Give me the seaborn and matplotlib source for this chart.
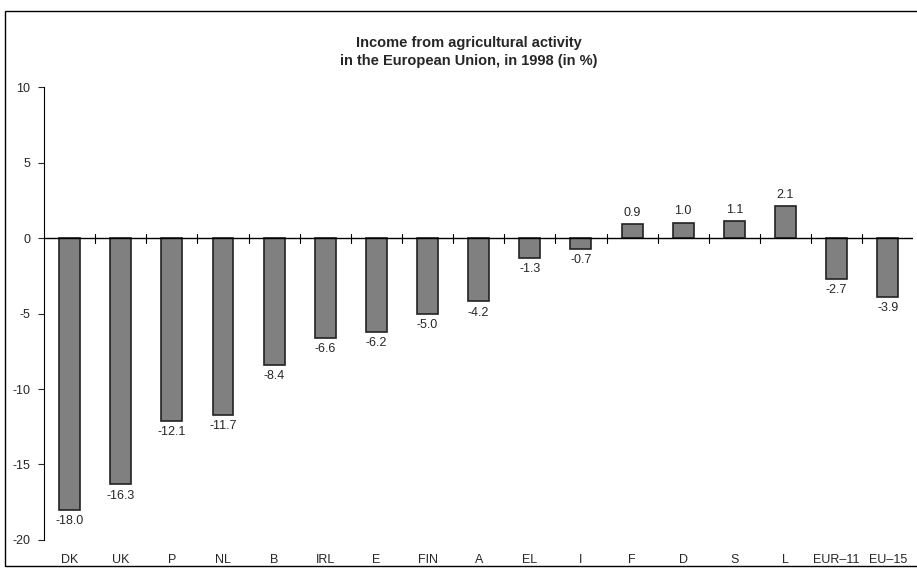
import pandas as pd
import seaborn as sns
import matplotlib.pyplot as plt
from matplotlib.patches import Rectangle

# Chart data
countries = ["DK", "UK", "P", "NL", "B", "IRL", "E", "FIN", "A", "EL",
             "I", "F", "D", "S", "L", "EUR\u201311", "EU\u201315"]
income_change = [-18.0, -16.3, -12.1, -11.7, -8.4, -6.6, -6.2, -5.0, -4.2,
                 -1.3, -0.7, 0.9, 1.0, 1.1, 2.1, -2.7, -3.9]
y_ticks = [-20, -15, -10, -5, 0, 5, 10]


def main():
    df = pd.DataFrame({"country": countries, "value": income_change})

    sns.set_style("white")
    plt.rcParams["font.family"] = ["Liberation Sans", "DejaVu Sans"]

    fig = plt.figure(figsize=(9.17, 5.69), dpi=100)
    ax = fig.add_axes([0.048, 0.051, 0.948, 0.796])

    # Outer frame of the figure
    fig.patches.append(Rectangle((0.0055, 0.005), 1.2, 0.976,
                                 transform=fig.transFigure, fill=False,
                                 edgecolor="black", linewidth=1.0))

    sns.barplot(data=df, x="country", y="value", color="#808080",
                saturation=1, width=0.41, edgecolor="#222222",
                linewidth=1.2, ax=ax)

    for container in ax.containers:
        ax.bar_label(container, fmt="%.1f", padding=4, fontsize=9)

    # Zero line with tick marks between categories
    n = len(countries)
    ax.axhline(0, color="black", linewidth=1.0)
    for i in range(n - 1):
        ax.plot([i + 0.5, i + 0.5], [-0.3, 0.3], color="black",
                linewidth=0.8)

    ax.set_xlim(-0.5, n - 0.5)
    ax.set_ylim(-20, 10)
    ax.set_yticks(y_ticks)
    ax.set_yticklabels([str(t) for t in y_ticks])
    ax.tick_params(axis="y", direction="out", length=4, width=0.8,
                   left=True, labelsize=9, pad=6)
    ax.tick_params(axis="x", length=0, labelsize=9, pad=10)

    ax.set_xlabel("")
    ax.set_ylabel("")
    for side in ["top", "right", "bottom"]:
        ax.spines[side].set_visible(False)
    ax.spines["left"].set_color("black")
    ax.spines["left"].set_linewidth(0.8)

    fig.text(0.511, 0.909,
             "Income from agricultural activity\n"
             "in the European Union, in 1998 (in %)",
             ha="center", va="center", fontsize=10.5, fontweight="bold",
             linespacing=1.35)

    fig.savefig("out.png", dpi=100)


if __name__ == "__main__":
    main()
